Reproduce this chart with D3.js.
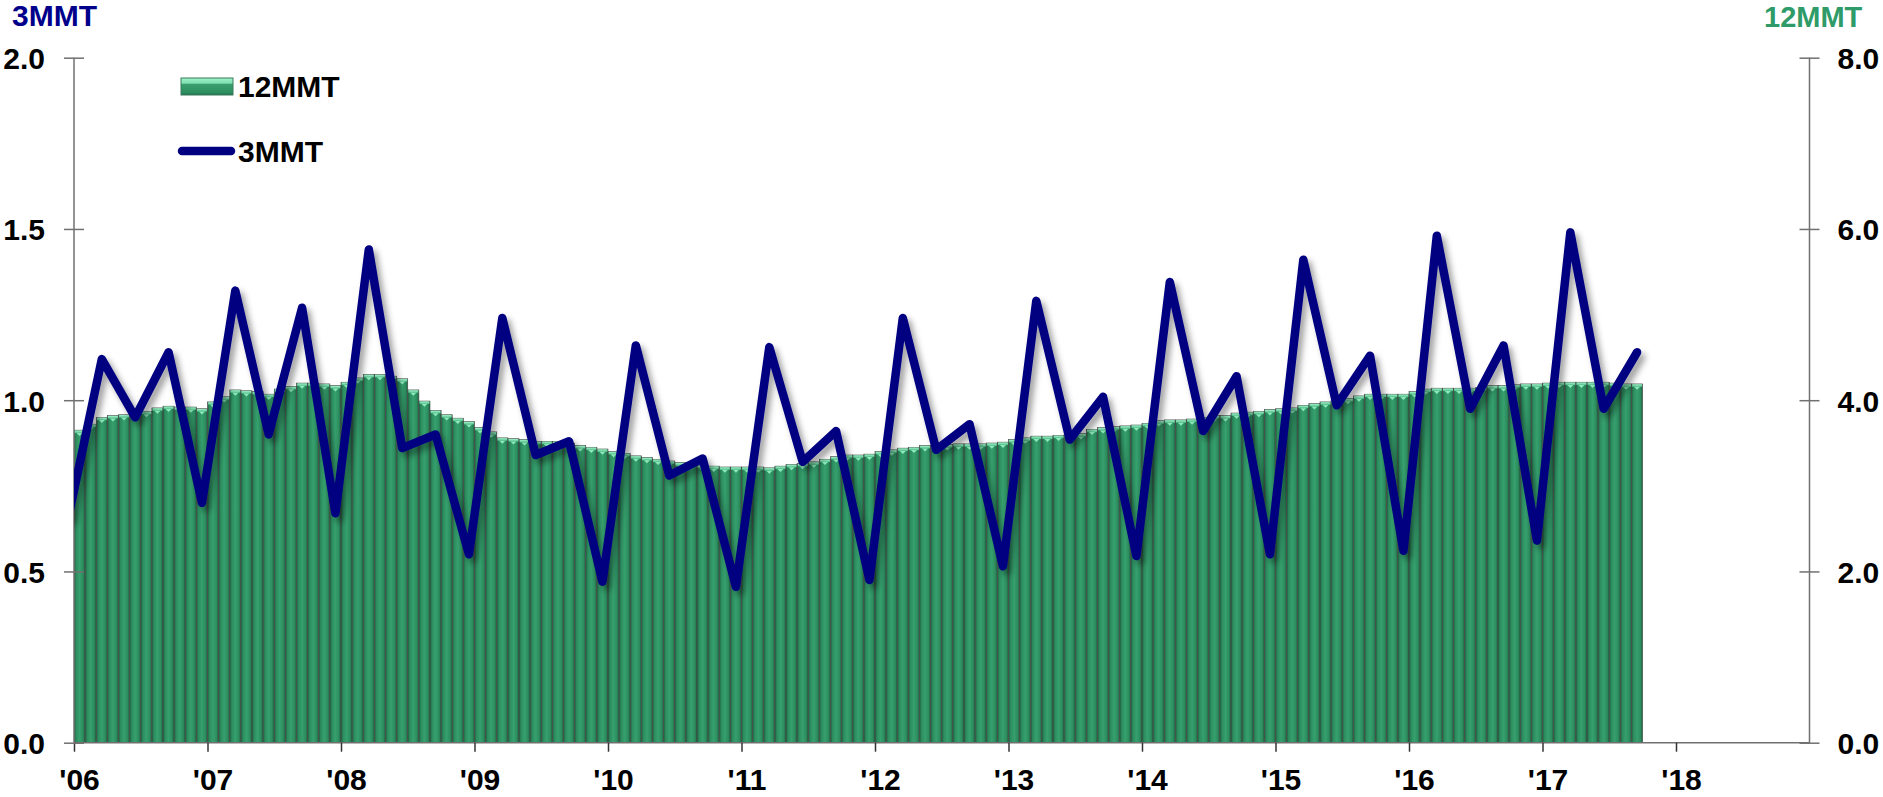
<!DOCTYPE html>
<html>
<head>
<meta charset="utf-8">
<script src="https://cdn.jsdelivr.net/npm/d3@7"></script>
<style>
  body { margin: 0; background: #fff; }
  text { font-family: "Liberation Sans", Arial, sans-serif; font-weight: bold; }
</style>
</head>
<body>
<div id="chart-area"></div>
<script>
// 12MMT, monthly, Jan 2006 - Sep 2017 (right axis)
const bars2006 = [3.65, 3.72, 3.80, 3.82, 3.83, 3.85, 3.87, 3.91, 3.93, 3.92, 3.92, 3.90];
const bars2007 = [3.98, 4.04, 4.12, 4.11, 4.10, 4.07, 4.13, 4.16, 4.20, 4.20, 4.19, 4.17];
const bars2008 = [4.21, 4.26, 4.30, 4.30, 4.28, 4.25, 4.12, 3.99, 3.88, 3.83, 3.79, 3.75];
const bars2009 = [3.68, 3.63, 3.56, 3.55, 3.54, 3.52, 3.52, 3.52, 3.50, 3.47, 3.45, 3.43];
const bars2010 = [3.40, 3.38, 3.35, 3.33, 3.31, 3.29, 3.27, 3.26, 3.24, 3.23, 3.22, 3.22];
const bars2011 = [3.22, 3.22, 3.21, 3.23, 3.25, 3.26, 3.28, 3.31, 3.34, 3.36, 3.36, 3.37];
const bars2012 = [3.40, 3.42, 3.44, 3.45, 3.47, 3.47, 3.48, 3.49, 3.49, 3.49, 3.50, 3.51];
const bars2013 = [3.54, 3.56, 3.58, 3.58, 3.59, 3.60, 3.61, 3.66, 3.68, 3.69, 3.70, 3.71];
const bars2014 = [3.73, 3.76, 3.77, 3.77, 3.78, 3.80, 3.82, 3.82, 3.85, 3.86, 3.87, 3.89];
const bars2015 = [3.90, 3.91, 3.94, 3.96, 3.98, 4.00, 4.02, 4.05, 4.07, 4.07, 4.07, 4.07];
const bars2016 = [4.10, 4.13, 4.14, 4.14, 4.14, 4.14, 4.15, 4.17, 4.17, 4.18, 4.19, 4.19];
const bars2017 = [4.20, 4.21, 4.21, 4.21, 4.21, 4.21, 4.20, 4.19, 4.19];

// 3MMT, quarterly (Mar/Jun/Sep/Dec), starting Dec 2005 (left axis)
const line2005 = [0.66];
const line2006 = [1.12, 0.95, 1.14, 0.70];
const line2007 = [1.32, 0.90, 1.27, 0.67];
const line2008 = [1.44, 0.86, 0.90, 0.55];
const line2009 = [1.24, 0.84, 0.88, 0.47];
const line2010 = [1.16, 0.78, 0.83, 0.455];
const line2011 = [1.155, 0.82, 0.91, 0.475];
const line2012 = [1.24, 0.855, 0.93, 0.515];
const line2013 = [1.29, 0.885, 1.01, 0.545];
const line2014 = [1.345, 0.91, 1.07, 0.55];
const line2015 = [1.41, 0.985, 1.13, 0.56];
const line2016 = [1.48, 0.975, 1.16, 0.59];
const line2017 = [1.49, 0.975, 1.14];

const yearLabels = ["'06", "'07", "'08", "'09", "'10", "'11", "'12", "'13", "'14", "'15", "'16", "'17", "'18"];
const leftTicks = [0, 0.5, 1.0, 1.5, 2.0];
const rightTicks = [0, 2, 4, 6, 8];

const months12 = [].concat(bars2006, bars2007, bars2008, bars2009, bars2010, bars2011,
  bars2012, bars2013, bars2014, bars2015, bars2016, bars2017);
const quarters3 = [].concat(line2005, line2006, line2007, line2008, line2009, line2010,
  line2011, line2012, line2013, line2014, line2015, line2016, line2017);

const barData = months12.map((v, i) => ({ month: i, value: v }));
// first quarter point is Dec 2005 (month -1), then every 3 months
const lineData = quarters3.map((v, i) => ({ month: -1 + i * 3, value: v }));

const W = 1883, H = 797;
const margin = { top: 57.7, right: 73.5, bottom: 54.3, left: 74 };
const width = W - margin.left - margin.right;
const height = H - margin.top - margin.bottom;

const svg = d3.select("#chart-area")
  .append("svg")
    .attr("width", W)
    .attr("height", H);

const defs = svg.append("defs");

const barGrad = defs.append("linearGradient")
  .attr("id", "barGrad")
  .attr("x1", "0").attr("x2", "1").attr("y1", "0").attr("y2", "0");
[["0%", "#1d5c3e"], ["18%", "#2c8c5e"], ["50%", "#36a06e"], ["82%", "#2c8c5e"], ["100%", "#1d5c3e"]]
  .forEach(s => barGrad.append("stop").attr("offset", s[0]).attr("stop-color", s[1]));

const capGrad = defs.append("linearGradient")
  .attr("id", "capGrad")
  .attr("x1", "0").attr("x2", "0").attr("y1", "0").attr("y2", "1");
[["0%", "#a6f5cd"], ["100%", "#4dbb85"]]
  .forEach(s => capGrad.append("stop").attr("offset", s[0]).attr("stop-color", s[1]));

const legGrad = defs.append("linearGradient")
  .attr("id", "legGrad")
  .attr("x1", "0").attr("x2", "0").attr("y1", "0").attr("y2", "1");
[["0%", "#9ff2c8"], ["30%", "#7fe0b0"], ["38%", "#3a9e6e"], ["85%", "#2e8f60"], ["100%", "#23704b"]]
  .forEach(s => legGrad.append("stop").attr("offset", s[0]).attr("stop-color", s[1]));

const shadow = defs.append("filter")
  .attr("id", "shadow")
  .attr("x", "-5%").attr("y", "-10%").attr("width", "110%").attr("height", "130%");
shadow.append("feDropShadow")
  .attr("dx", 4).attr("dy", 5)
  .attr("stdDeviation", 3)
  .attr("flood-color", "#000")
  .attr("flood-opacity", 0.38);

defs.append("clipPath")
  .attr("id", "plotClip")
  .append("rect")
    .attr("x", 0).attr("y", -margin.top)
    .attr("width", width).attr("height", height + margin.top);

const g = svg.append("g")
  .attr("transform", `translate(${margin.left}, ${margin.top})`);

// month index scale, 2006 .. 2019
const x = d3.scaleLinear()
  .domain([0, 13 * 12])
  .range([0, width]);

const yLeft = d3.scaleLinear()
  .domain([0, 2])
  .range([height, 0]);

const yRight = d3.scaleLinear()
  .domain([0, 8])
  .range([height, 0]);

const bw = x(1) - x(0);

// bars
const barG = g.append("g").attr("clip-path", "url(#plotClip)");

barG.selectAll("rect.bar")
  .data(barData)
  .enter()
  .append("rect")
    .attr("class", "bar")
    .attr("x", d => x(d.month))
    .attr("y", d => yRight(d.value))
    .attr("width", bw)
    .attr("height", d => height - yRight(d.value))
    .attr("fill", "url(#barGrad)")
    .attr("stroke", "#4a4a4a")
    .attr("stroke-width", 0.6);

barG.selectAll("rect.cap")
  .data(barData)
  .enter()
  .append("rect")
    .attr("class", "cap")
    .attr("x", d => x(d.month) + 0.6)
    .attr("y", d => yRight(d.value) + 0.3)
    .attr("width", bw - 1.2)
    .attr("height", 2.6)
    .attr("fill", "url(#capGrad)");

barG.selectAll("path.notch")
  .data(barData)
  .enter()
  .append("path")
    .attr("class", "notch")
    .attr("d", d => {
      const cx = x(d.month) + bw / 2;
      const ty = yRight(d.value) + 2.8;
      return `M${cx - 3},${ty} L${cx + 3},${ty} L${cx},${ty + 3} Z`;
    })
    .attr("fill", "#8de8bb");

// axes
const xAxisCall = d3.axisBottom(x)
  .tickValues(d3.range(0, 13 * 12 + 1, 12).slice(0, yearLabels.length))
  .tickFormat((d, i) => yearLabels[i])
  .tickSize(9);

const xAxisGroup = g.append("g")
  .attr("class", "x-axis")
  .attr("transform", `translate(0, ${height})`)
  .call(xAxisCall);

xAxisGroup.select(".domain")
  .attr("d", `M0,0H${width}`)
  .attr("stroke", "#707070")
  .attr("stroke-width", 1.5);
xAxisGroup.selectAll(".tick line").attr("stroke", "#333").attr("stroke-width", 1.5);
xAxisGroup.selectAll(".tick text")
  .attr("x", 5)
  .attr("y", 47)
  .attr("dy", 0)
  .attr("font-size", "30px")
  .attr("fill", "#000");

const yAxisCall = d3.axisLeft(yLeft)
  .tickValues(leftTicks)
  .tickFormat(d3.format(".1f"))
  .tickSize(10)
  .tickPadding(19);

const yAxisGroup = g.append("g")
  .attr("class", "y-axis")
  .call(yAxisCall);

const yRightCall = d3.axisRight(yRight)
  .tickValues(rightTicks)
  .tickFormat(d3.format(".1f"))
  .tickSize(10)
  .tickPadding(18);

const yRightGroup = g.append("g")
  .attr("class", "y-axis-right")
  .attr("transform", `translate(${width}, 0)`)
  .call(yRightCall);

[yAxisGroup, yRightGroup].forEach(ax => {
  ax.select(".domain")
    .attr("d", `M0,0V${height}`)
    .attr("stroke", "#707070")
    .attr("stroke-width", 1.5);
  ax.selectAll(".tick line")
    .attr("x1", -10)
    .attr("x2", 10)
    .attr("stroke", "#707070")
    .attr("stroke-width", 1.5);
  ax.selectAll(".tick text")
    .attr("dy", "0.36em")
    .attr("font-size", "30px")
    .attr("fill", "#000");
});

// 3MMT line
const line = d3.line()
  .x(d => x(d.month + 0.5))
  .y(d => yLeft(d.value));

g.append("g")
  .attr("clip-path", "url(#plotClip)")
  .append("path")
    .datum(lineData)
    .attr("d", line)
    .attr("fill", "none")
    .attr("stroke", "#000080")
    .attr("stroke-width", 8.5)
    .attr("stroke-linejoin", "round")
    .attr("stroke-linecap", "round")
    .attr("filter", "url(#shadow)");

// axis titles
svg.append("text")
  .attr("x", 12)
  .attr("y", 26)
  .attr("font-size", "30px")
  .attr("fill", "#00008b")
  .text("3MMT");

svg.append("text")
  .attr("x", 1764)
  .attr("y", 27)
  .attr("font-size", "29px")
  .attr("fill", "#2e9b68")
  .text("12MMT");

// legend
const legend = svg.append("g");

legend.append("rect")
  .attr("x", 181)
  .attr("y", 78)
  .attr("width", 52)
  .attr("height", 17)
  .attr("fill", "url(#legGrad)")
  .attr("stroke", "#3b7d5c")
  .attr("stroke-width", 1);

legend.append("text")
  .attr("x", 238)
  .attr("y", 97)
  .attr("font-size", "30px")
  .attr("fill", "#000")
  .text("12MMT");

legend.append("line")
  .attr("x1", 182)
  .attr("x2", 231)
  .attr("y1", 151)
  .attr("y2", 151)
  .attr("stroke", "#000080")
  .attr("stroke-width", 8.5)
  .attr("stroke-linecap", "round");

legend.append("text")
  .attr("x", 238)
  .attr("y", 162)
  .attr("font-size", "30px")
  .attr("fill", "#000")
  .text("3MMT");
</script>
</body>
</html>
